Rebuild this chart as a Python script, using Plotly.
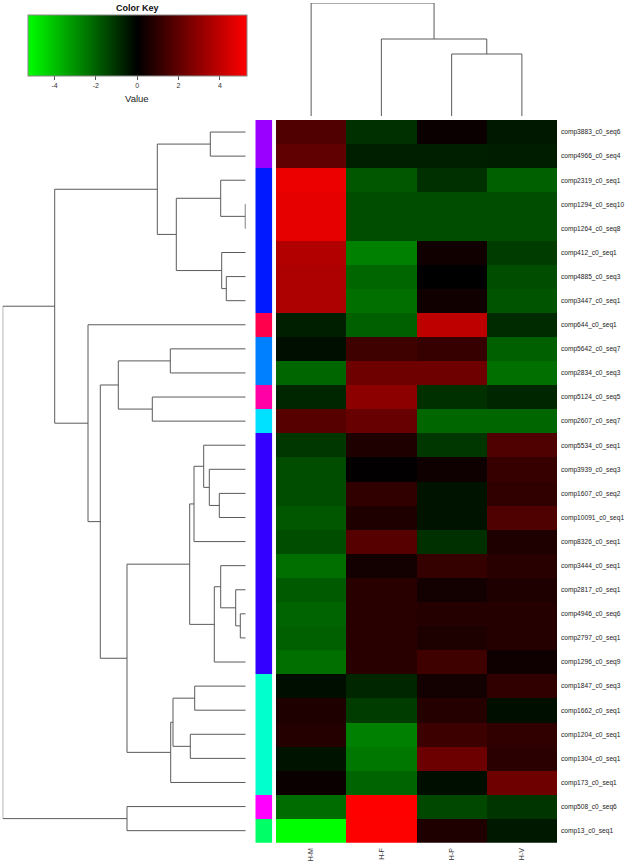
import plotly.graph_objects as go

# ---------------- data ----------------
row_names = [
    "comp3883_c0_seq6", "comp4966_c0_seq4", "comp2319_c0_seq1", "comp1294_c0_seq10",
    "comp1264_c0_seq8", "comp412_c0_seq1", "comp4885_c0_seq3", "comp3447_c0_seq1",
    "comp644_c0_seq1", "comp5642_c0_seq7", "comp2834_c0_seq3", "comp5124_c0_seq5",
    "comp2607_c0_seq7", "comp5534_c0_seq1", "comp3939_c0_seq3", "comp1607_c0_seq2",
    "comp10091_c0_seq1", "comp8326_c0_seq1", "comp3444_c0_seq1", "comp2817_c0_seq1",
    "comp4946_c0_seq6", "comp2797_c0_seq1", "comp1296_c0_seq9", "comp1847_c0_seq3",
    "comp1662_c0_seq1", "comp1204_c0_seq1", "comp1304_c0_seq1", "comp173_c0_seq1",
    "comp508_c0_seq6", "comp13_c0_seq1",
]
col_names = ["H-M", "H-F", "H-P", "H-V"]

hm_values = [1.66, 2.0, 4.9, 4.8, 4.8, 3.7, 3.6, 3.6, -0.65, -0.3,
             -2.15, -0.8, 1.8, -1.15, -1.6, -1.6, -1.8, -1.6, -2.3, -1.9,
             -2.1, -2.0, -2.3, -0.3, 0.65, 0.75, -0.4, 0.2, -2.25, -5.3]
hf_values = [-1.0, -0.65, -1.8, -1.6, -1.6, -2.65, -2.15, -2.3, -2.0, 1.3,
             2.3, 2.9, 2.15, 0.65, 0.05, 1.0, 0.65, 1.8, 0.4, 0.85,
             0.85, 0.85, 0.85, -0.8, -1.25, -2.65, -2.5, -2.1, 5.3, 5.25]
hp_values = [0.2, -0.65, -1.0, -1.6, -1.6, 0.35, 0.0, 0.35, 3.95, 1.15,
             2.3, -1.0, -2.15, -1.15, 0.3, -0.4, -0.4, -1.0, 1.1, 0.4,
             0.75, 0.6, 1.3, 0.4, 0.75, 1.25, 2.25, -0.3, -1.5, 0.65]
hv_values = [-0.5, -0.6, -2.0, -1.6, -1.6, -1.25, -1.6, -1.75, -0.9, -2.0,
             -2.3, -0.8, -2.15, 1.65, 1.15, 1.0, 1.65, 0.65, 0.85, 0.65,
             0.75, 0.75, 0.3, 1.0, -0.3, 1.0, 0.9, 2.3, -1.1, -0.5]

row_cluster = [0, 0, 1, 1, 1, 1, 1, 1, 2, 3, 3, 4, 5, 6, 6, 6, 6, 6, 6, 6,
               6, 6, 6, 7, 7, 7, 7, 7, 8, 9]
cluster_colors = ["#9900FF", "#0019FF", "#FF004D", "#0080FF", "#FF00A6",
                  "#00E0FF", "#3300FF", "#00FFCC", "#FF00FF", "#00FF66"]

# row dendrogram merges: (child a, child b, height); leaves 0..29, new nodes from 30
row_merges = [
    (0, 1, 35.4), (3, 4, 0.4), (2, 31, 25.0), (6, 7, 19.4), (5, 33, 24.0),
    (32, 34, 69.4), (30, 35, 88.4), (9, 10, 75.4), (11, 12, 93.4), (37, 38, 127.4),
    (15, 16, 26.4), (14, 40, 36.4), (13, 41, 42.0), (42, 17, 51.7), (20, 21, 5.4),
    (19, 44, 10.0), (18, 45, 25.0), (46, 22, 31.4), (43, 47, 56.0), (23, 24, 51.0),
    (25, 26, 55.4), (49, 50, 72.7), (51, 27, 75.0), (48, 52, 118.7), (39, 53, 145.4),
    (8, 54, 157.7), (36, 55, 191.0), (28, 29, 118.7), (56, 57, 243.0),
]
# column dendrogram merges; leaves 0..3, new nodes from 4
col_merges = [(2, 3, 62.0), (1, 4, 77.0), (0, 5, 113.0)]

# ---------------- layout helpers ----------------
W, H = 625, 863


def fx(p):
    return p / W


def fy(p):
    return 1 - p / H


def dendro_segments(n_leaves, merges):
    pos = {i: float(i) for i in range(n_leaves)}
    hgt = {i: 0.0 for i in range(n_leaves)}
    hs, ps = [], []
    for k, (a, b, h) in enumerate(merges):
        node = n_leaves + k
        for c in (a, b):
            hs += [hgt[c], h, None]
            ps += [pos[c], pos[c], None]
        hs += [h, h, None]
        ps += [pos[a], pos[b], None]
        pos[node] = (pos[a] + pos[b]) / 2
        hgt[node] = h
    return hs, ps


n_rows = len(row_names)
z = [[hm_values[i], hf_values[i], hp_values[i], hv_values[i]] for i in range(n_rows)]

heat_x_dom = [fx(276), fx(557)]
heat_y_dom = [fy(842.7), fy(120)]
line_col = "#5a5a5a"

fig = go.Figure()

# main heatmap with colour key
fig.add_trace(go.Heatmap(
    z=z, x=list(range(len(col_names))), y=list(range(n_rows)),
    colorscale=[[0, "rgb(0,255,0)"], [0.5, "rgb(0,0,0)"], [1, "rgb(255,0,0)"]],
    zmin=-5.3, zmax=5.3, xaxis="x", yaxis="y", hoverinfo="skip",
    showscale=True,
    colorbar=dict(
        orientation="h", x=fx(137.2), xanchor="center",
        y=fy(15), yanchor="top",
        lenmode="pixels", len=219, thicknessmode="pixels", thickness=61,
        outlinewidth=1, outlinecolor="#888888",
        tickvals=[-4, -2, 0, 2, 4], ticktext=["-4", "-2", "0", "2", "4"],
        ticks="outside", ticklen=4,
        tickcolor="#555555", tickfont=dict(size=7, color="#333333"),
        xpad=0, ypad=0, title=dict(text=""),
    ),
))

# side colour bar
K = len(cluster_colors)
cs = []
for k, c in enumerate(cluster_colors):
    cs.append([k / K, c])
    cs.append([(k + 1) / K, c])
fig.add_trace(go.Heatmap(
    z=[[c] for c in row_cluster], x=[0], y=list(range(n_rows)),
    colorscale=cs, zmin=-0.5, zmax=K - 0.5, showscale=False,
    xaxis="x2", yaxis="y2", hoverinfo="skip",
))

# row dendrogram
rh, rp = dendro_segments(n_rows, row_merges)
fig.add_trace(go.Scatter(x=rh, y=rp, mode="lines", xaxis="x3", yaxis="y3",
                         line=dict(color=line_col, width=1), cliponaxis=False,
                         hoverinfo="skip", showlegend=False))

# column dendrogram
ch, cp = dendro_segments(len(col_names), col_merges)
fig.add_trace(go.Scatter(x=cp, y=ch, mode="lines", xaxis="x4", yaxis="y4",
                         line=dict(color=line_col, width=1), cliponaxis=False,
                         hoverinfo="skip", showlegend=False))

blank = dict(showgrid=False, zeroline=False, showticklabels=False, ticks="",
             showline=False, automargin=False)

fig.update_layout(
    template="none",
    width=W, height=H, margin=dict(l=0, r=0, t=0, b=0, pad=0, autoexpand=False),
    paper_bgcolor="white", plot_bgcolor="white", showlegend=False,
    font=dict(family="Liberation Sans, Arial, sans-serif", color="#333333"),
    xaxis=dict(domain=heat_x_dom, range=[-0.5, 3.5], anchor="y",
               tickvals=list(range(len(col_names))), ticktext=col_names,
               tickangle=-90, ticks="", showgrid=False, zeroline=False,
               showline=False, automargin=False,
               tickfont=dict(size=7, color="#333333"), ticklabelstandoff=3),
    yaxis=dict(domain=heat_y_dom, range=[n_rows - 0.5, -0.5], anchor="x",
               side="right", tickvals=list(range(n_rows)), ticktext=row_names,
               ticks="", showgrid=False, zeroline=False, showline=False,
               automargin=False,
               tickfont=dict(size=6.6, color="#222222"), ticklabelstandoff=3),
    xaxis2=dict(domain=[fx(255.3), fx(272.3)], range=[-0.5, 0.5], anchor="y2", **blank),
    yaxis2=dict(domain=heat_y_dom, range=[n_rows - 0.5, -0.5], anchor="x2", **blank),
    xaxis3=dict(domain=[fx(2.7), fx(245.7)], range=[243.0, 0], anchor="y3", **blank),
    yaxis3=dict(domain=heat_y_dom, range=[n_rows - 0.5, -0.5], anchor="x3", **blank),
    xaxis4=dict(domain=heat_x_dom, range=[-0.5, 3.5], anchor="y4", **blank),
    yaxis4=dict(domain=[fy(116), fy(3)], range=[0, 113.0], anchor="x4", **blank),
    annotations=[
        dict(text="<b>Color Key</b>", x=fx(137.2), y=fy(7.5), xref="paper",
             yref="paper", showarrow=False, font=dict(size=9, color="#111111"),
             xanchor="center", yanchor="middle"),
        dict(text="Value", x=fx(137.2), y=fy(98.5), xref="paper",
             yref="paper", showarrow=False, font=dict(size=9.5, color="#222222"),
             xanchor="center", yanchor="middle"),
    ],
)

fig.write_html("out.html",
               config={"displayModeBar": False, "staticPlot": True},
               post_script="document.body.style.margin='0';"
                           "document.body.style.overflow='hidden';")
